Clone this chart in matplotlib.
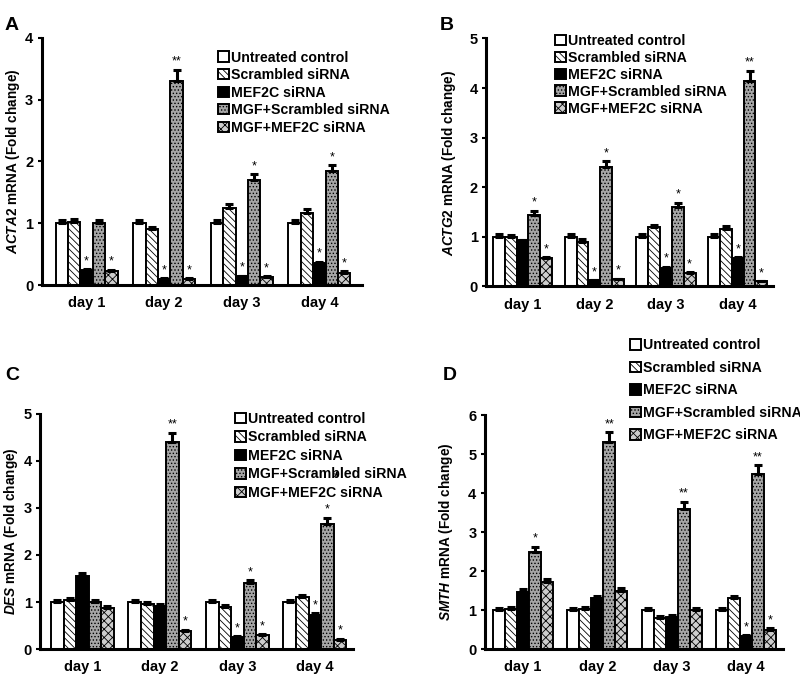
import matplotlib
matplotlib.use("Agg")
import matplotlib.pyplot as plt
import numpy as np

plt.rcParams['font.family'] = ['Liberation Sans', 'DejaVu Sans']
plt.rcParams['font.weight'] = 'bold'
plt.rcParams['mathtext.fontset'] = 'custom'
plt.rcParams['mathtext.it'] = 'Liberation Sans:italic:bold'
plt.rcParams['mathtext.rm'] = 'Liberation Sans:bold'
plt.rcParams['hatch.linewidth'] = 0.6

days = ["day 1", "day 2", "day 3", "day 4"]
series = ["Untreated control", "Scrambled siRNA", "MEF2C siRNA",
          "MGF+Scrambled siRNA", "MGF+MEF2C siRNA"]

# values[day][series]
acta2 = [[1.00, 1.02, 0.25, 1.00, 0.23],
         [1.00, 0.90, 0.10, 3.30, 0.10],
         [1.00, 1.25, 0.14, 1.70, 0.13],
         [1.00, 1.17, 0.36, 1.84, 0.20]]
acta2_err = [[0.05, 0.05, 0.01, 0.05, 0.02],
             [0.05, 0.04, 0.01, 0.18, 0.01],
             [0.05, 0.06, 0.01, 0.09, 0.01],
             [0.05, 0.06, 0.02, 0.10, 0.02]]
acta2_sig = [["", "", "*", "", "*"],
             ["", "", "*", "**", "*"],
             ["", "", "*", "*", "*"],
             ["", "", "*", "*", "*"]]

actg2 = [[1.00, 0.99, 0.93, 1.45, 0.57],
         [1.00, 0.90, 0.12, 2.41, 0.15],
         [1.00, 1.19, 0.38, 1.61, 0.27],
         [1.00, 1.15, 0.57, 4.15, 0.10]]
actg2_err = [[0.05, 0.05, 0.01, 0.08, 0.02],
             [0.05, 0.05, 0.01, 0.12, 0.01],
             [0.05, 0.05, 0.02, 0.08, 0.02],
             [0.05, 0.06, 0.02, 0.20, 0.01]]
actg2_sig = [["", "", "", "*", "*"],
             ["", "", "*", "*", "*"],
             ["", "", "*", "*", "*"],
             ["", "", "*", "**", "*"]]

des = [[1.00, 1.04, 1.55, 1.00, 0.87],
       [1.00, 0.95, 0.92, 4.40, 0.38],
       [1.00, 0.90, 0.26, 1.40, 0.30],
       [1.00, 1.10, 0.72, 2.65, 0.20]]
des_err = [[0.05, 0.05, 0.07, 0.05, 0.04],
           [0.05, 0.04, 0.03, 0.20, 0.03],
           [0.05, 0.04, 0.02, 0.07, 0.02],
           [0.05, 0.05, 0.04, 0.14, 0.02]]
des_sig = [["", "", "", "", ""],
           ["", "", "", "**", "*"],
           ["", "", "*", "*", "*"],
           ["", "", "*", "*", "*"]]

smth = [[1.00, 1.03, 1.47, 2.50, 1.73],
        [1.00, 1.03, 1.30, 5.32, 1.50],
        [1.00, 0.80, 0.83, 3.60, 1.00],
        [1.00, 1.30, 0.33, 4.50, 0.50]]
smth_err = [[0.05, 0.05, 0.07, 0.13, 0.08],
            [0.05, 0.05, 0.07, 0.25, 0.07],
            [0.05, 0.05, 0.04, 0.18, 0.05],
            [0.05, 0.06, 0.02, 0.22, 0.03]]
smth_sig = [["", "", "", "*", ""],
            ["", "", "", "**", ""],
            ["", "", "", "**", ""],
            ["", "", "*", "**", "*"]]

styles = [dict(facecolor="white", hatch=None),
          dict(facecolor="white", hatch="\\\\\\\\\\"),
          dict(facecolor="black", hatch=None),
          dict(facecolor="#a6a6a6", hatch="....."),
          dict(facecolor="#cdcdcd", hatch="xxxx")]

fig = plt.figure(figsize=(8, 6.74), dpi=100)

panels = [
    dict(vals=acta2, err=acta2_err, sig=acta2_sig, gene="ACTA2", ymax=4,
         rect=[0.052, 0.577, 0.4005, 0.367], xlim=(0.42, 4.55), w=0.16,
         letter="A", lpos=(0.006, 0.975), ylx=0.016,
         leg=(0.2725, 0.925), lsp=0.25),
    dict(vals=actg2, err=actg2_err, sig=actg2_sig, gene="ACTG2", ymax=5,
         rect=[0.6075, 0.575, 0.359, 0.368], xlim=(0.49, 4.495), w=0.165,
         letter="B", lpos=(0.55, 0.975), ylx=0.561,
         leg=(0.694, 0.950), lsp=0.21),
    dict(vals=des, err=des_err, sig=des_sig, gene="DES", ymax=5,
         rect=[0.050, 0.037, 0.391, 0.349], xlim=(0.453, 4.49), w=0.162,
         letter="C", lpos=(0.006, 0.455), ylx=0.014,
         leg=(0.294, 0.389), lsp=0.32),
    dict(vals=smth, err=smth_err, sig=smth_sig, gene="SMTH", ymax=6,
         rect=[0.606, 0.037, 0.373, 0.347], xlim=(0.486, 4.5), w=0.162,
         letter="D", lpos=(0.553, 0.455), ylx=0.557,
         leg=(0.7875, 0.498), lsp=0.6),
]

x = np.arange(1, len(days) + 1)
for p in panels:
    ax = fig.add_axes(p["rect"])
    vals = np.array(p["vals"])
    errs = np.array(p["err"])
    w = p["w"]
    handles = []
    for j, name in enumerate(series):
        pos = x + (j - 2) * w
        b = ax.bar(pos, vals[:, j], width=w, facecolor=styles[j]["facecolor"],
                   hatch=styles[j]["hatch"], edgecolor="black", linewidth=1.4,
                   label=name, zorder=2)
        handles.append(b)
        ax.errorbar(pos, vals[:, j], yerr=[np.zeros(len(days)), errs[:, j]],
                    fmt="none", ecolor="black", elinewidth=2.2, capsize=3.2,
                    capthick=2.2, zorder=3)
        for i in range(len(days)):
            s = p["sig"][i][j]
            if s:
                ax.text(pos[i], vals[i, j] + errs[i, j] + p["ymax"] * 0.008, s,
                        ha="center", va="bottom", fontsize=9, fontweight="normal")
    ax.set_xlim(*p["xlim"])
    ax.set_ylim(0, p["ymax"])
    ax.set_yticks(range(0, p["ymax"] + 1))
    ax.set_xticks(x)
    ax.set_xticklabels(days, fontsize=10.5, fontweight="bold")
    ax.tick_params(axis="x", length=0, pad=8)
    ax.tick_params(axis="y", length=3, width=1.5, direction="out",
                   labelsize=10.5, pad=3)
    for lab in ax.get_yticklabels():
        lab.set_fontweight("bold")
    for s in ["top", "right"]:
        ax.spines[s].set_visible(False)
    for s in ["left", "bottom"]:
        ax.spines[s].set_linewidth(2.2)
    r = p["rect"]
    fig.text(p["ylx"], r[1] + r[3] / 2,
             r"$\it{" + p["gene"] + r"}$" + " mRNA (Fold change)",
             rotation=90, fontsize=9.8, fontweight="bold",
             ha="center", va="center")
    fig.text(p["lpos"][0], p["lpos"][1], p["letter"], fontsize=14,
             fontweight="bold", va="top", ha="left")
    ax.legend(handles=handles, loc="upper left", bbox_to_anchor=p["leg"],
              bbox_transform=fig.transFigure, frameon=False, fontsize=10.2,
              handlelength=0.75, handleheight=0.75, handletextpad=0.15,
              labelspacing=p["lsp"], borderpad=0, borderaxespad=0)

# stray asterisk present in panel C of the original
fig.text(0.421, 0.292, "*", fontsize=9, ha="center", va="center")

fig.savefig("out.png", dpi=100)
